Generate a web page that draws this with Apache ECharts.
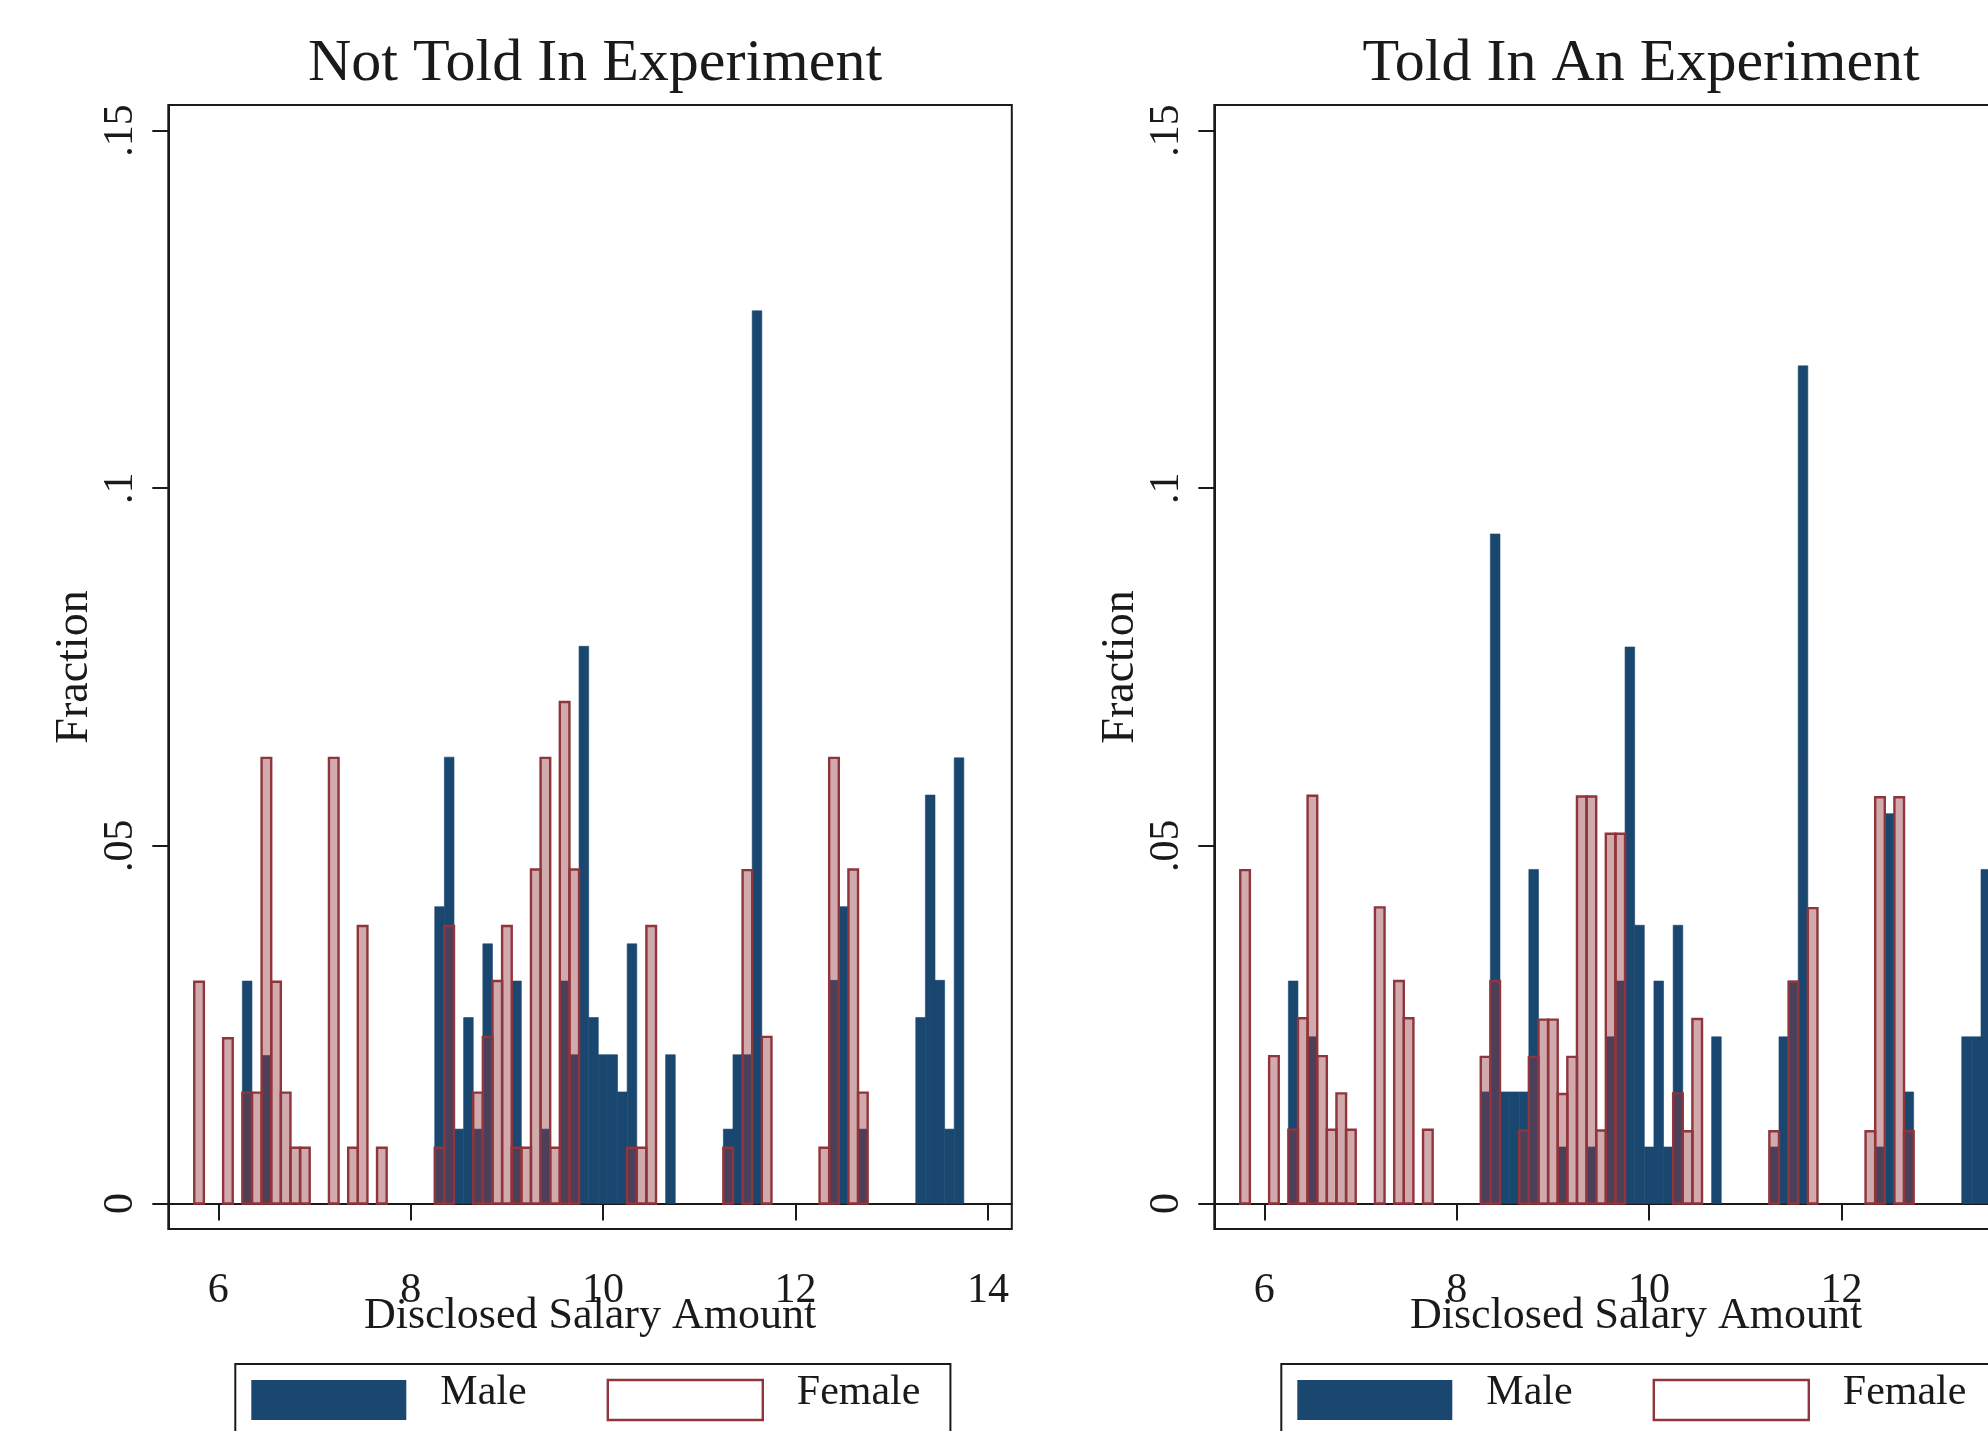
<!DOCTYPE html>
<html>
<head>
<meta charset="utf-8">
<script src="https://cdn.jsdelivr.net/npm/echarts@6/dist/echarts.min.js"></script>
<style>
  html, body { margin: 0; padding: 0; background: #fff; overflow: hidden; }
  /* the right panel runs past the window edge, as in the reference */
  #chart { width: 2100px; height: 1431px; }
</style>
</head>
<body>
<div id="chart"></div>
<script>
// ── Data: histogram bins (bin centre) and fraction per bin ─────────────

const binWidth = 0.1;
const xTicks = [6, 8, 10, 12, 14];
const yTicks = [0, 0.05, 0.1, 0.15];
const panelTitles = ["Not Told In Experiment", "Told In An Experiment"];

const notToldMaleBins = [6.3, 6.5, 8.3, 8.4, 8.5, 8.6, 8.7, 8.8, 9.1, 9.4, 9.6, 9.7, 9.8, 9.9, 10.0, 10.1, 10.2, 10.3, 10.7, 11.3, 11.4, 11.5, 11.6, 12.4, 12.5, 12.7, 13.3, 13.4, 13.5, 13.6, 13.7];
const notToldMaleFrac = [0.0311, 0.0207, 0.0415, 0.0624, 0.0104, 0.026, 0.0104, 0.0363, 0.0311, 0.0104, 0.0311, 0.0208, 0.0779, 0.026, 0.0208, 0.0208, 0.0156, 0.0363, 0.0208, 0.0104, 0.0208, 0.0208, 0.1248, 0.0312, 0.0415, 0.0104, 0.026, 0.0571, 0.0312, 0.0104, 0.0623];

const notToldFemaleBins = [5.8, 6.1, 6.3, 6.4, 6.5, 6.6, 6.7, 6.8, 6.9, 7.2, 7.4, 7.5, 7.7, 8.3, 8.4, 8.7, 8.8, 8.9, 9.0, 9.1, 9.2, 9.3, 9.4, 9.5, 9.6, 9.7, 10.3, 10.4, 10.5, 11.3, 11.5, 11.7, 12.3, 12.4, 12.6, 12.7];
const notToldFemaleFrac = [0.031, 0.0231, 0.0155, 0.0155, 0.0623, 0.031, 0.0155, 0.0078, 0.0078, 0.0623, 0.0078, 0.0388, 0.0078, 0.0078, 0.0388, 0.0155, 0.0233, 0.0311, 0.0388, 0.0078, 0.0078, 0.0467, 0.0623, 0.0078, 0.0701, 0.0467, 0.0078, 0.0078, 0.0388, 0.0078, 0.0466, 0.0233, 0.0078, 0.0623, 0.0467, 0.0155];

const toldMaleBins = [6.3, 6.5, 8.3, 8.4, 8.5, 8.6, 8.7, 8.8, 9.1, 9.4, 9.6, 9.7, 9.8, 9.9, 10.0, 10.1, 10.2, 10.3, 10.7, 11.3, 11.4, 11.5, 11.6, 12.4, 12.5, 12.7, 13.3, 13.4, 13.5];
const toldMaleFrac = [0.0311, 0.0233, 0.0156, 0.0936, 0.0156, 0.0156, 0.0156, 0.0467, 0.0079, 0.0079, 0.0233, 0.0311, 0.0778, 0.0389, 0.0079, 0.0311, 0.0079, 0.0389, 0.0233, 0.0079, 0.0233, 0.0311, 0.1171, 0.0079, 0.0545, 0.0156, 0.0233, 0.0233, 0.0467];

const toldFemaleBins = [5.8, 6.1, 6.3, 6.4, 6.5, 6.6, 6.7, 6.8, 6.9, 7.2, 7.4, 7.5, 7.7, 8.3, 8.4, 8.7, 8.8, 8.9, 9.0, 9.1, 9.2, 9.3, 9.4, 9.5, 9.6, 9.7, 10.3, 10.4, 10.5, 11.3, 11.5, 11.7, 12.3, 12.4, 12.6, 12.7];
const toldFemaleFrac = [0.0466, 0.0206, 0.0103, 0.0259, 0.057, 0.0206, 0.0103, 0.0154, 0.0103, 0.0414, 0.0311, 0.0259, 0.0103, 0.0205, 0.0311, 0.0102, 0.0205, 0.0257, 0.0257, 0.0153, 0.0205, 0.0569, 0.0569, 0.0102, 0.0517, 0.0517, 0.0154, 0.0101, 0.0258, 0.0101, 0.031, 0.0413, 0.0101, 0.0568, 0.0568, 0.0101];

// ── Style ──────────────────────────────────────────────────────────────

const FONT = "Liberation Serif";
const INK = "#1a1a1a";
const MALE = "#1a476f";
const FEMALE = "#90353b";
const FEMALE_FILL = "rgba(144,53,59,0.42)";

const GRID_W = 843.5, GRID_H = 1124, GRID_TOP = 105;
const gridLefts = [168.3, 1214.3];

// ── Helpers ────────────────────────────────────────────────────────────

function zip(xs, ys) {
  return xs.map((x, i) => [x, ys[i]]);
}

function histSeries(name, panel, bins, fracs, female) {
  return {
    name,
    type: "custom",
    xAxisIndex: panel,
    yAxisIndex: panel,
    z: female ? 3 : 2,
    clip: true,
    itemStyle: female
      ? { color: FEMALE_FILL, borderColor: FEMALE, borderWidth: 2.4 }
      : { color: MALE },
    data: zip(bins, fracs),
    renderItem(params, api) {
      const x = api.value(0);
      const y = api.value(1);
      const a = api.coord([x - binWidth / 2, y]);
      const b = api.coord([x + binWidth / 2, 0]);
      const style = female
        ? { fill: FEMALE_FILL, stroke: FEMALE, lineWidth: 2.4 }
        : { fill: MALE, stroke: MALE, lineWidth: 0.6 };
      return {
        type: "rect",
        shape: { x: a[0], y: a[1], width: b[0] - a[0], height: b[1] - a[1] },
        style,
      };
    },
  };
}

function xAxisFor(i) {
  return {
    type: "value",
    gridIndex: i,
    min: 5.4802,
    max: 14.2484,
    name: "Disclosed Salary Amount",
    nameLocation: "middle",
    nameGap: 65,
    nameMoveOverlap: false,
    nameTextStyle: { fontFamily: FONT, fontSize: 44, color: INK },
    axisLine: { show: true, lineStyle: { color: INK, width: 2 } },
    axisTick: { show: true, length: 17, customValues: xTicks, lineStyle: { color: INK, width: 2 } },
    axisLabel: { customValues: xTicks, margin: 41, fontFamily: FONT, fontSize: 42, color: INK },
    splitLine: { show: false },
  };
}

function yAxisFor(i) {
  return {
    type: "value",
    gridIndex: i,
    min: -0.003565,
    max: 0.15357,
    name: "Fraction",
    nameLocation: "middle",
    nameGap: 70,
    nameMoveOverlap: false,
    nameTextStyle: { fontFamily: FONT, fontSize: 46, color: INK },
    axisLine: { show: true, lineStyle: { color: INK, width: 2 } },
    axisTick: { show: true, length: 16, customValues: yTicks, lineStyle: { color: INK, width: 2 } },
    axisLabel: {
      customValues: yTicks,
      rotate: 90,
      margin: 26,
      fontFamily: FONT,
      fontSize: 42,
      color: INK,
      formatter: (v) => (v === 0 ? "0" : String(+v.toFixed(2)).replace(/^0/, "")),
    },
    splitLine: { show: false },
  };
}

function legendFor(i) {
  return {
    left: gridLefts[i] + 67,
    top: 1364,
    orient: "horizontal",
    icon: "rect",
    itemWidth: 155,
    itemHeight: 40,
    itemGap: 80,
    padding: [8, 30, 20, 16],
    borderColor: INK,
    borderWidth: 2,
    selectedMode: false,
    formatter: (n) => `{t|${n}}`,
    textStyle: {
      fontFamily: FONT,
      fontSize: 42,
      color: INK,
      padding: [0, 0, 0, 29],
      rich: { t: { fontFamily: FONT, fontSize: 42, color: INK, padding: [0, 0, 14, 0] } },
    },
    data: [
      { name: "Male", itemStyle: { color: MALE, borderWidth: 0 } },
      { name: "Female", itemStyle: { color: "#fff", borderColor: FEMALE, borderWidth: 2.4 } },
    ],
  };
}

// ── Chart ──────────────────────────────────────────────────────────────

const chart = echarts.init(document.getElementById("chart"), null, { renderer: "canvas" });

chart.setOption({
  backgroundColor: "#fff",
  animation: false,
  title: panelTitles.map((t, i) => ({
    text: t,
    left: gridLefts[i] + GRID_W / 2,
    top: 29,
    textAlign: "center",
    textStyle: { fontFamily: FONT, fontSize: 60, fontWeight: "normal", color: INK },
  })),
  grid: gridLefts.map((left) => ({
    left,
    top: GRID_TOP,
    width: GRID_W,
    height: GRID_H,
    show: true,
    borderColor: INK,
    borderWidth: 2,
    backgroundColor: "#fff",
    containLabel: false,
    outerBoundsMode: "none",
  })),
  legend: [legendFor(0), legendFor(1)],
  xAxis: [xAxisFor(0), xAxisFor(1)],
  yAxis: [yAxisFor(0), yAxisFor(1)],
  series: [
    histSeries("Male", 0, notToldMaleBins, notToldMaleFrac, false),
    histSeries("Female", 0, notToldFemaleBins, notToldFemaleFrac, true),
    histSeries("Male", 1, toldMaleBins, toldMaleFrac, false),
    histSeries("Female", 1, toldFemaleBins, toldFemaleFrac, true),
  ],
});
</script>
</body>
</html>
